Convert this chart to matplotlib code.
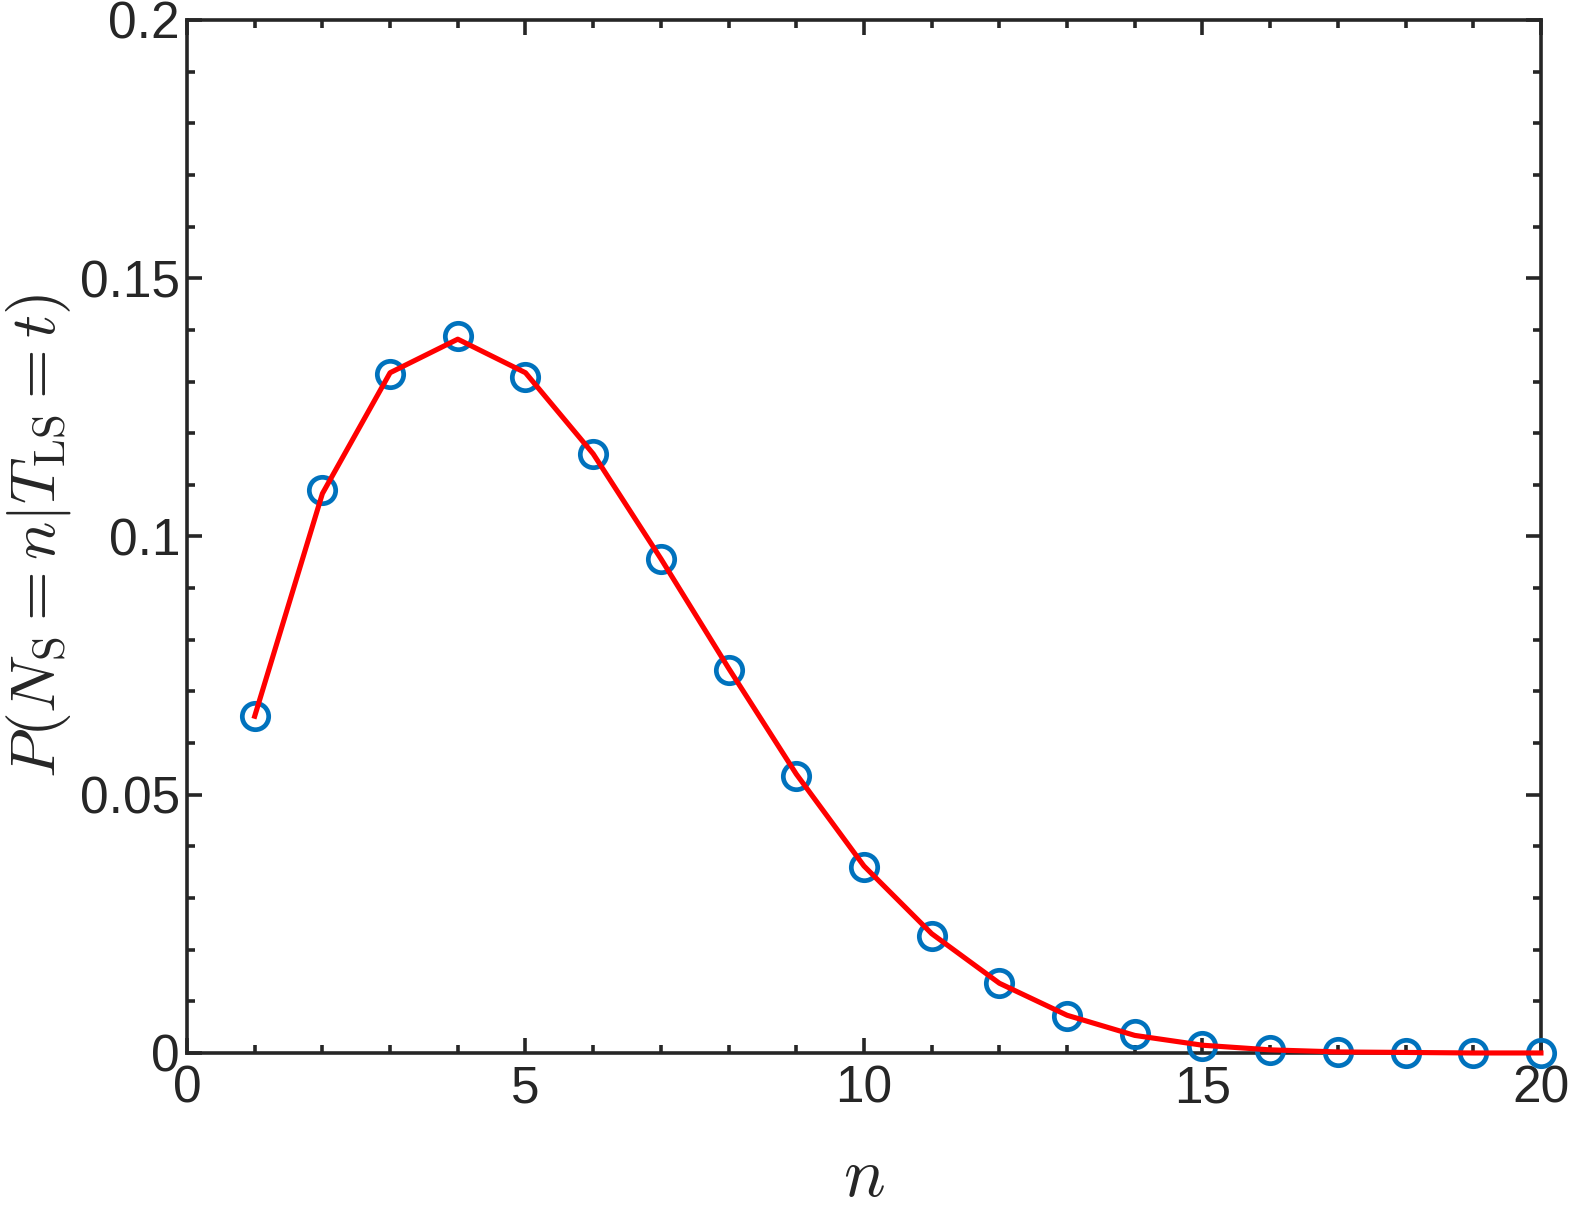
import matplotlib
matplotlib.use("Agg")
import matplotlib.pyplot as plt
from matplotlib.ticker import MultipleLocator

# n = 1..20
n_vals = list(range(1, 21))
# simulated probabilities (circles)
p_sim = [0.0652, 0.1090, 0.1314, 0.1389, 0.1309, 0.1159, 0.0957, 0.0742, 0.0537, 0.0360,
         0.0226, 0.0136, 0.0071, 0.0036, 0.0013, 0.0005, 0.0001, 0.0000, 0.0000, 0.0000]
# theoretical curve (red line)
p_theory = [0.0652, 0.1083, 0.1317, 0.1382, 0.1317, 0.1160, 0.0957, 0.0745, 0.0540, 0.0362,
            0.0231, 0.0135, 0.0073, 0.0034, 0.0015, 0.0006, 0.0002, 0.0001, 0.0000, 0.0000]

plt.rcParams["font.family"] = ["Liberation Sans", "DejaVu Sans"]
plt.rcParams["mathtext.fontset"] = "cm"

fig = plt.figure(figsize=(15.74, 12.11), dpi=100)
ax = fig.add_axes([0.1188, 0.1305, 0.979 - 0.1188, 0.9835 - 0.1305])

ax.plot(n_vals, p_sim, "o", mfc="none", mec="#0072BD", ms=19, mew=3.4, zorder=3, clip_on=False)
ax.plot(n_vals, p_theory, "-", color="red", lw=3.7, zorder=4, clip_on=False)

ax.set_xlim(0, 20)
ax.set_ylim(0, 0.2)
ax.set_xticks([0, 5, 10, 15, 20])
ax.set_yticks([0, 0.05, 0.1, 0.15, 0.2])
ax.set_yticklabels(["0", "0.05", "0.1", "0.15", "0.2"])
ax.xaxis.set_minor_locator(MultipleLocator(1))
ax.yaxis.set_minor_locator(MultipleLocator(0.01))

dark = "#262626"
for sp in ax.spines.values():
    sp.set_linewidth(2.6)
    sp.set_color(dark)
ax.tick_params(which="both", direction="in", top=True, right=True, colors=dark,
               width=2.6, labelsize=37, labelcolor=dark)
ax.tick_params(which="major", length=11)
ax.tick_params(which="minor", length=6)
ax.tick_params(axis="x", pad=8)
ax.tick_params(axis="y", pad=5)

ax.set_xlabel(r"$n$", fontsize=50, color=dark, labelpad=24)
ax.set_ylabel(r"$P(N_\mathrm{S}=n|T_\mathrm{LS}=t)$", fontsize=46, color=dark, labelpad=5)

fig.savefig("out.png", dpi=100)
